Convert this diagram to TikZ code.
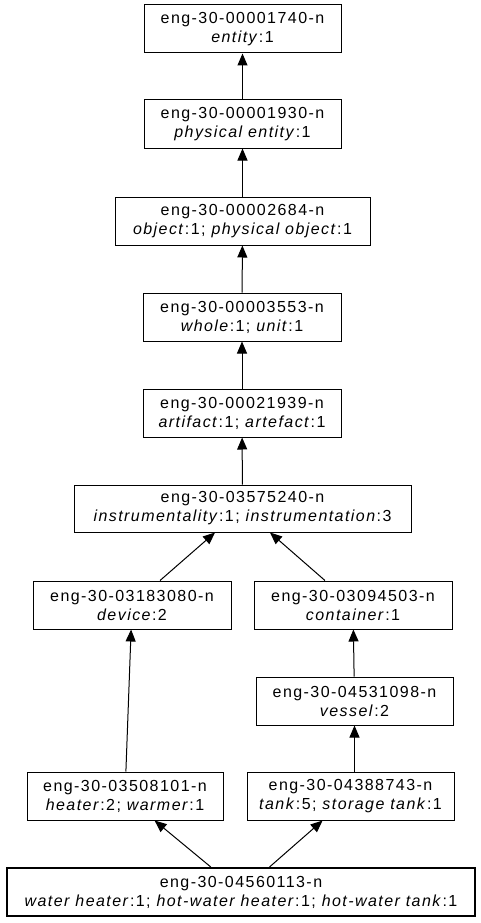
\documentclass[tikz,border=0pt]{standalone}
\usepackage{fontspec}
\setmainfont{Liberation Sans}[LetterSpace=9]
\usetikzlibrary{arrows.meta}
\tikzset{
  syn/.style={draw=black, line width=1pt, rectangle, inner sep=0pt, minimum height=48pt,
    align=center, font=\fontsize{16}{19}\selectfont},
  focus/.style={syn, line width=2pt},
  hyp/.style={draw=black, line width=1pt, -{Triangle[length=12pt,width=10pt]}}
}
\begin{document}
\begin{tikzpicture}[x=1pt,y=-1pt]
\fill[white] (0,0) rectangle (480,923);
\useasboundingbox (0,0) rectangle (480,923);
\node[syn, minimum width=197pt] (n1) at (242.5,29) {eng-30-00001740-n\\\textit{entity}:1};
\node[syn, minimum width=197pt] (n2) at (242.5,124) {eng-30-00001930-n\\\textit{physical entity}:1};
\node[syn, minimum width=255pt] (n3) at (242.5,221) {eng-30-00002684-n\\\textit{object}:1; \textit{physical object}:1};
\node[syn, minimum width=198pt] (n4) at (242,317) {eng-30-00003553-n\\\textit{whole}:1; \textit{unit}:1};
\node[syn, minimum width=198pt] (n5) at (242,413) {eng-30-00021939-n\\\textit{artifact}:1; \textit{artefact}:1};
\node[syn, minimum width=337pt, minimum height=47pt] (n6) at (242.5,508.5) {eng-30-03575240-n\\\textit{instrumentality}:1; \textit{instrumentation}:3};
\node[syn, minimum width=198pt] (n7) at (132,605) {eng-30-03183080-n\\\textit{device}:2};
\node[syn, minimum width=198pt] (n8) at (353,605) {eng-30-03094503-n\\\textit{container}:1};
\node[syn, minimum width=197pt] (n9) at (354.5,701) {eng-30-04531098-n\\\textit{vessel}:2};
\node[syn, minimum width=196pt] (n10) at (125,796) {eng-30-03508101-n\\\textit{heater}:2; \textit{warmer}:1};
\node[syn, minimum width=207pt] (n11) at (350.5,796) {eng-30-04388743-n\\\textit{tank}:5; \textit{storage tank}:1};
\node[focus, minimum width=468pt] (n12) at (241,892) {eng-30-04560113-n\\\textit{water heater}:1; \textit{hot-water heater}:1; \textit{hot-water tank}:1};
\draw[hyp] (n2) -- (n1);
\draw[hyp] (n3) -- (n2);
\draw[hyp] (n4) -- (n3);
\draw[hyp] (n5) -- (n4);
\draw[hyp] (n6) -- (n5);
\draw[hyp] (n7) -- (n6);
\draw[hyp] (n8) -- (n6);
\draw[hyp] (n9) -- (n8);
\draw[hyp] (n10) -- (n7);
\draw[hyp] (n11.north -| n9.south) -- (n9.south);
\draw[hyp] (n12) -- (n10);
\draw[hyp] (n12) -- (n11);
\end{tikzpicture}
\end{document}
